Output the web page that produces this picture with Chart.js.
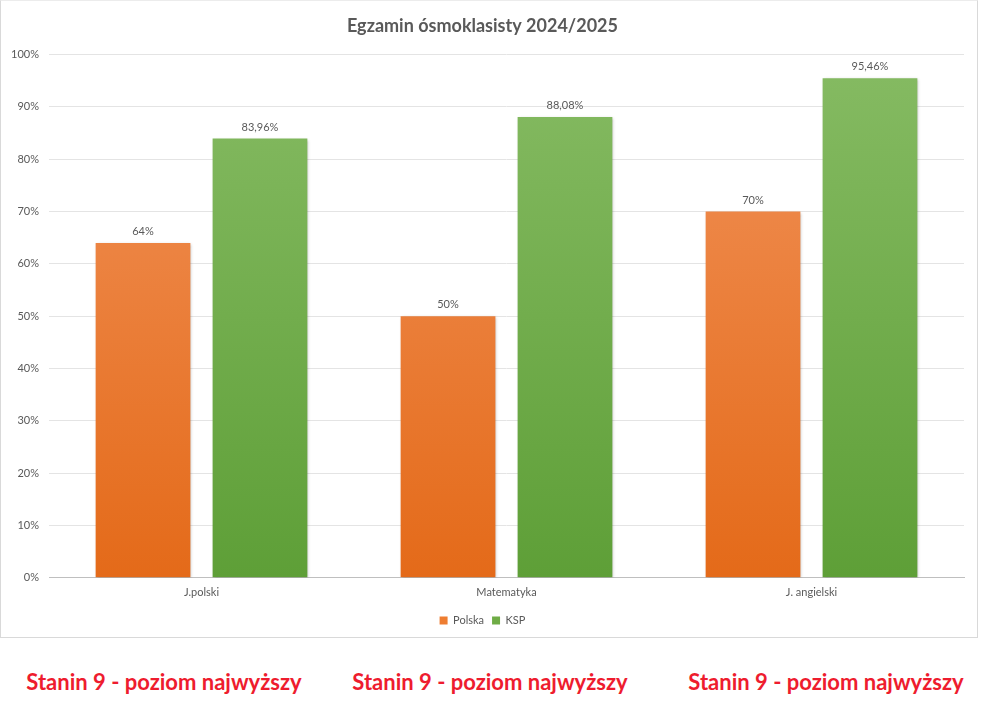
<!DOCTYPE html>
<html>
<head>
<meta charset="utf-8">
<script src="https://cdn.jsdelivr.net/npm/chart.js@4.4.0/dist/chart.umd.min.js"></script>
<style>
  body { margin: 0; background: #fff; width: 983px; height: 707px; position: relative; overflow: hidden; }
  #box { position: absolute; left: 0; top: 0; width: 976px; height: 636px; border: 1px solid #d9d9d9; border-top-color: #ececec; background: #fff; }
  .stanin { position: absolute; top: 668px; font-family: Lato, "Open Sans", sans-serif; font-weight: bold; font-size: 22px; color: #ee1c2e; white-space: nowrap; transform: translateX(-50%); }
</style>
</head>
<body>
<div id="box"><canvas id="chart" width="976" height="636"></canvas></div>
<div class="stanin" style="left:164px">Stanin 9 - poziom najwyższy</div>
<div class="stanin" style="left:490px">Stanin 9 - poziom najwyższy</div>
<div class="stanin" style="left:826px">Stanin 9 - poziom najwyższy</div>
<script>
// dane
const categories = ['J.polski', 'Matematyka', 'J. angielski'];
const polska = [64, 50, 70];
const ksp = [83.96, 88.08, 95.46];
const yTicks = [0, 10, 20, 30, 40, 50, 60, 70, 80, 90, 100];

const txt = '#595959';
const font = 'Lato, "Open Sans", sans-serif';

function grad(top, bottom) {
  return (c) => {
    const area = c.chart.chartArea;
    if (!area) return bottom;
    const g = c.chart.ctx.createLinearGradient(0, area.top, 0, area.bottom);
    g.addColorStop(0, top);
    g.addColorStop(1, bottom);
    return g;
  };
}

function fmt(v) {
  return String(v).replace('.', ',') + '%';
}

// cien pod slupkami
const shadowPlugin = {
  id: 'shadow',
  beforeDatasetsDraw(chart) {
    const ctx = chart.ctx;
    ctx.save();
    ctx.shadowColor = 'rgba(0,0,0,0.3)';
    ctx.shadowBlur = 3;
    ctx.shadowOffsetX = 1;
    ctx.shadowOffsetY = 1;
  },
  afterDatasetsDraw(chart) {
    chart.ctx.restore();
  }
};

// etykiety nad slupkami
const labelPlugin = {
  id: 'labels',
  afterDatasetsDraw(chart) {
    const ctx = chart.ctx;
    ctx.save();
    ctx.font = '11px ' + font;
    ctx.fillStyle = txt;
    ctx.textAlign = 'center';
    ctx.textBaseline = 'bottom';
    chart.data.datasets.forEach((ds, i) => {
      chart.getDatasetMeta(i).data.forEach((bar, j) => {
        ctx.fillText(fmt(ds.data[j]), bar.x, bar.y - 6);
      });
    });
    ctx.restore();
  }
};

new Chart(document.getElementById('chart'), {
  type: 'bar',
  data: {
    labels: categories,
    datasets: [
      { label: 'Polska', data: polska, backgroundColor: grad('#f19259', '#e46a19'), categoryPercentage: 0.767, barPercentage: 0.81 },
      { label: 'KSP', data: ksp, backgroundColor: grad('#86bb63', '#5e9f37'), categoryPercentage: 0.767, barPercentage: 0.81 }
    ]
  },
  options: {
    responsive: false,
    animation: false,
    layout: { padding: { left: 0, right: 13, top: 0, bottom: 1 } },
    plugins: {
      title: {
        display: true,
        text: 'Egzamin ósmoklasisty 2024/2025',
        color: txt,
        font: { family: font, size: 18, weight: 'bold' },
        padding: { top: 14, bottom: 18 }
      },
      legend: {
        position: 'bottom',
        labels: {
          color: txt,
          font: { family: font, size: 11 },
          boxWidth: 8,
          boxHeight: 8,
          padding: 8,
          useBorderRadius: false,
          generateLabels(chart) {
            return chart.data.datasets.map((ds, i) => ({
              text: ds.label,
              fillStyle: i === 0 ? '#ee7d31' : '#6fac46',
              strokeStyle: i === 0 ? '#ee7d31' : '#6fac46',
              lineWidth: 0,
              fontColor: txt,
              datasetIndex: i
            }));
          }
        }
      },
      tooltip: { enabled: false }
    },
    scales: {
      x: {
        grid: { display: false },
        border: { color: '#bfbfbf' },
        afterFit(s) { s.height += 8; },
        ticks: { color: txt, font: { family: font, size: 11 }, padding: 0 }
      },
      y: {
        min: 0,
        max: 100,
        afterBuildTicks(s) { s.ticks = yTicks.map(v => ({ value: v })); },
        afterFit(s) { s.width = 48; },
        grid: { color: '#e4e4e4', drawTicks: false },
        border: { display: false },
        ticks: { color: txt, font: { family: font, size: 11 }, padding: 10, callback: v => v + '%' }
      }
    }
  },
  plugins: [shadowPlugin, labelPlugin]
});
</script>
</body>
</html>
